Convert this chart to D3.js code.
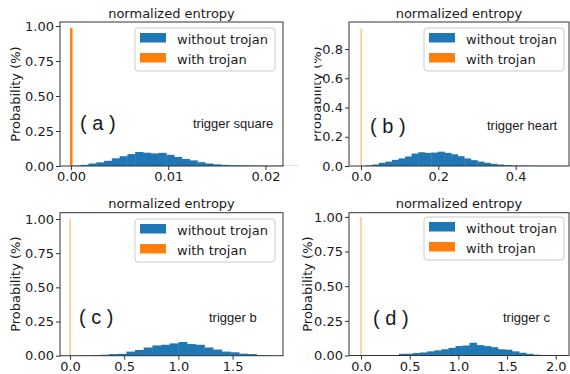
<!DOCTYPE html>
<html>
<head>
<meta charset="utf-8">
<script src="https://cdn.jsdelivr.net/npm/d3@7"></script>
<style>
  body { margin: 0; background: #fff; }
  text { font-family: "DejaVu Sans", sans-serif; fill: #1a1a1a; }
  .note { font-family: "Liberation Sans", Arial, sans-serif; }
</style>
</head>
<body>
<svg id="chart" width="570" height="374"></svg>
<script>
// ---- data ----
// blue histograms ("without trojan"): first bin edge, bin width, bin heights
const binA = [0.0002, 0.0008];
const blueA = [0.003, 0.008, 0.018, 0.026, 0.037, 0.055, 0.07, 0.085, 0.1, 0.095, 0.09, 0.094,
  0.08, 0.065, 0.05, 0.04, 0.027, 0.018, 0.012, 0.008, 0.006, 0.005, 0.004, 0.003, 0.003,
  0.002, 0.002, 0.0015, 0.001];
const binB = [0.012, 0.017];
const blueB = [0.004, 0.01, 0.022, 0.03, 0.042, 0.052, 0.065, 0.085, 0.094, 0.09, 0.092, 0.098,
  0.09, 0.08, 0.067, 0.052, 0.04, 0.03, 0.022, 0.015, 0.01, 0.006, 0.004, 0.003, 0.003, 0.002,
  0.002, 0.002, 0.0015, 0.0015, 0.001];
const binC = [0.04, 0.08];
const blueC = [0.001, 0.002, 0.005, 0.007, 0.012, 0.014, 0.03, 0.042, 0.06, 0.075, 0.08, 0.09,
  0.1, 0.085, 0.08, 0.06, 0.045, 0.03, 0.025, 0.015, 0.012, 0.004, 0.002];
const binD = [0.39, 0.0725];
const blueD = [0.012, 0.013, 0.018, 0.022, 0.03, 0.037, 0.045, 0.055, 0.068, 0.072, 0.092, 0.075,
  0.068, 0.06, 0.045, 0.042, 0.03, 0.02, 0.012, 0.006];

// orange bars ("with trojan"): [x0, x1, height]
const orangeA = [-0.0001, 0.00016, 0.985];
const orangeB = [-0.001, 0.0015, 0.94];
const orangeC = [-0.004, 0.005, 1.0];
const orangeD = [-0.005, 0.005, 1.0];

// ticks
const xTicksA = [0, 0.01, 0.02];
const xTicksB = [0, 0.2, 0.4];
const xTicksC = [0, 0.5, 1.0, 1.5];
const xTicksD = [0, 0.5, 1.0, 1.5, 2.0];
const yTicksA = [0, 0.25, 0.5, 0.75, 1.0];
const yTicksB = [0, 0.2, 0.4, 0.6, 0.8];
const yTicksC = [0, 0.25, 0.5, 0.75, 1.0];
const yTicksD = [0, 0.25, 0.5, 0.75, 1.0];

const tags = ["( a )", "( b )", "( c )", "( d )"];
const triggers = ["trigger square", "trigger heart", "trigger b", "trigger c"];
const legendLabels = ["without trojan", "with trojan"];
const titleText = "normalized entropy";
const yLabel = "Probability (%)";

// ---- layout (pixels) ----
const BLUE = "#1f77b4", ORANGE = "#ff7f0e";

const panels = [
  { bin: binA, blue: blueA, orange: orangeA, xt: xTicksA, yt: yTicksA, xf: ".2f", yf: ".2f",
    box: [60, 22, 283, 166], xd: [-0.00113, 0.0218], yd: [0, 1.029],
    tag: [80, 130], trig: [193, 128], leg: [135, 28, 140, 43], ylab: 20, thin: false },
  { bin: binB, blue: blueB, orange: orangeB, xt: xTicksB, yt: yTicksB, xf: ".1f", yf: ".1f",
    box: [349, 22, 569, 166], xd: [-0.031, 0.538], yd: [0, 0.985],
    tag: [370, 133], trig: [487, 130], leg: [424, 28, 140, 43], ylab: 321, thin: true, clip: 314.5 },
  { bin: binC, blue: blueC, orange: orangeC, xt: xTicksC, yt: yTicksC, xf: ".1f", yf: ".2f",
    box: [60, 212.7, 283, 355.7], xd: [-0.092, 1.965], yd: [0, 1.046],
    tag: [79, 324], trig: [209, 322], leg: [135, 219, 140, 43], ylab: 20, thin: true },
  { bin: binD, blue: blueD, orange: orangeD, xt: xTicksD, yt: yTicksD, xf: ".1f", yf: ".2f",
    box: [349, 212.7, 569, 355.5], xd: [-0.123, 2.136], yd: [0, 1.03],
    tag: [373, 325], trig: [503, 322], leg: [424, 217, 140, 43], ylab: 312, thin: true }
];

const svg = d3.select("#chart");
const defs = svg.append("defs");

panels.forEach((p, k) => {
  const [l, t, r, b] = p.box;
  const x = d3.scaleLinear().domain(p.xd).range([l, r]);
  const y = d3.scaleLinear().domain(p.yd).range([b, t]);
  const g = svg.append("g");

  // blue histogram
  g.append("g").selectAll("rect")
    .data(p.blue)
    .join("rect")
    .attr("x", (d, i) => x(p.bin[0] + i * p.bin[1]))
    .attr("width", (d, i) => x(p.bin[0] + (i + 1) * p.bin[1]) - x(p.bin[0] + i * p.bin[1]) + 0.4)
    .attr("y", d => y(d))
    .attr("height", d => y(0) - y(d))
    .attr("fill", BLUE);

  // orange spike
  const ow = Math.max(x(p.orange[1]) - x(p.orange[0]), 1);
  g.append("rect")
    .attr("x", x(p.orange[0]))
    .attr("width", ow)
    .attr("y", y(p.orange[2]))
    .attr("height", y(0) - y(p.orange[2]))
    .attr("fill", ORANGE)
    .attr("opacity", p.thin ? 0.7 : 1);

  // axes
  const ax = g.append("g").attr("transform", `translate(0,${b})`)
    .call(d3.axisBottom(x).tickValues(p.xt).tickFormat(d3.format(p.xf)).tickSize(4).tickPadding(2));
  const ay = g.append("g").attr("transform", `translate(${l},0)`)
    .call(d3.axisLeft(y).tickValues(p.yt).tickFormat(d3.format(p.yf)).tickSize(4).tickPadding(2));
  [ax, ay].forEach(a => {
    a.select(".domain").remove();
    a.selectAll("line").attr("stroke", "#333");
    a.selectAll("text").attr("font-size", 13).attr("font-family", "DejaVu Sans").attr("fill", "#1a1a1a");
  });

  // frame
  g.append("rect").attr("x", l).attr("y", t).attr("width", r - l).attr("height", b - t)
    .attr("fill", "none").attr("stroke", "#333").attr("stroke-width", 1);

  // title
  g.append("text").attr("x", (l + r) / 2).attr("y", t - 4.5)
    .attr("text-anchor", "middle").attr("font-size", 13).text(titleText);

  // y label (panel b is cropped on its left in the original)
  const ylg = g.append("g");
  if (p.clip) {
    defs.append("clipPath").attr("id", "clip" + k)
      .append("rect").attr("x", p.clip).attr("y", 0).attr("width", 40).attr("height", 374);
    ylg.attr("clip-path", `url(#clip${k})`);
  }
  ylg.append("text")
    .attr("transform", `translate(${p.ylab},${(t + b) / 2}) rotate(-90)`)
    .attr("text-anchor", "middle").attr("font-size", 13).text(yLabel);

  // annotations
  g.append("text").attr("class", "note").attr("x", p.tag[0]).attr("y", p.tag[1])
    .attr("font-size", 20).text(tags[k]);
  g.append("text").attr("class", "note").attr("x", p.trig[0]).attr("y", p.trig[1])
    .attr("font-size", 13).text(triggers[k]);

  // legend
  const [lx, ly, lw, lh] = p.leg;
  const lg = g.append("g");
  lg.append("rect").attr("x", lx).attr("y", ly).attr("width", lw).attr("height", lh)
    .attr("rx", 3).attr("fill", "#fff").attr("fill-opacity", 0.8)
    .attr("stroke", "#cccccc").attr("stroke-width", 1);
  [BLUE, ORANGE].forEach((c, i) => {
    lg.append("rect").attr("x", lx + 5).attr("y", ly + 5 + i * 20).attr("width", 26).attr("height", 9.5)
      .attr("fill", c);
    lg.append("text").attr("x", lx + 42).attr("y", ly + 15.5 + i * 20)
      .attr("font-size", 13).text(legendLabels[i]);
  });
});
</script>
</body>
</html>
